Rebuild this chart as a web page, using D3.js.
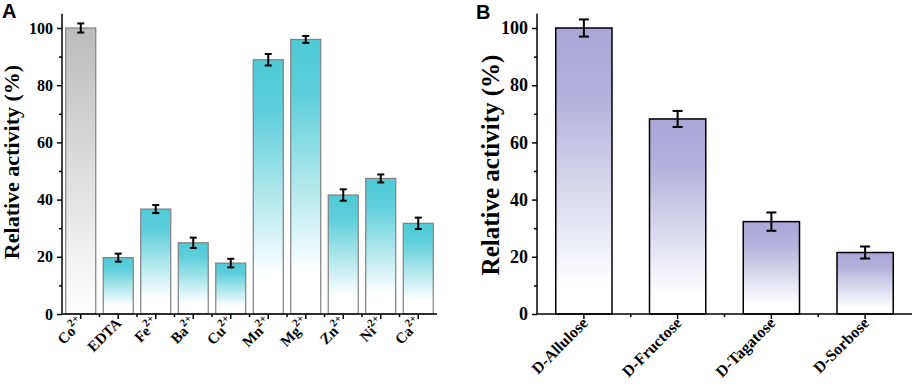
<!DOCTYPE html>
<html><head><meta charset="utf-8">
<script src="https://cdn.jsdelivr.net/npm/d3@7"></script>
<style>body{margin:0;background:#fff}svg{display:block}</style>
</head><body>
<svg id="c" width="913" height="386"></svg>
<script>
const ionsA = ["Co","EDTA","Fe","Ba","Cu","Mn","Mg","Zn","Ni","Ca"];
const chargeA = ["2+","","2+","2+","2+","2+","2+","2+","2+","2+"];
const valuesA = [100,19.7,36.7,24.9,17.8,88.9,96.0,41.6,47.4,31.7];
const errorsA = [1.6,1.4,1.4,1.8,1.5,2.0,1.2,2.0,1.4,2.0];
const sugarsB = ["D-Allulose","D-Fructose","D-Tagatose","D-Sorbose"];
const valuesB = [100,68.2,32.3,21.5];
const errorsB = [3.0,2.8,3.2,2.1];
const yTicks = [0,20,40,60,80,100];

const svg = d3.select("#c");
const serif = "'Liberation Serif','Times New Roman',serif";
const defs = svg.append("defs");
function grad(id, color, stops){
  const g = defs.append("linearGradient").attr("id",id).attr("x1",0).attr("y1",0).attr("x2",0).attr("y2",1);
  stops.forEach(s=>g.append("stop").attr("offset",s[0]).attr("stop-color",s[1]===null?color:s[1]));
}
grad("gGray","#bcbcbc",[[0,null],[1,"#ffffff"]]);
grad("gTeal","#4fcad6",[[0,null],[0.2,"#5ecfda"],[0.85,"#ffffff"],[1,"#ffffff"]]);
grad("gPurp","#aaa6d6",[[0,null],[0.25,"#b5b2dc"],[0.9,"#ffffff"],[1,"#ffffff"]]);

function panel(o){
  const g = svg.append("g");
  const x = d3.scaleBand().domain(o.cats).range([o.x0,o.x1]).paddingInner(o.pi).paddingOuter(o.po);
  const y = d3.scaleLinear().domain([0,105]).range([314,314-105*2.86]);
  g.selectAll("rect.bar").data(o.vals).enter().append("rect")
    .attr("x",(d,i)=>x(o.cats[i])).attr("width",x.bandwidth())
    .attr("y",d=>y(d)).attr("height",d=>y(0)-y(d))
    .attr("fill",(d,i)=>o.fill(i)).attr("stroke",o.stroke).attr("stroke-width",o.sw);
  const eb = g.selectAll("g.eb").data(o.vals).enter().append("g");
  eb.append("line").attr("x1",(d,i)=>x(o.cats[i])+x.bandwidth()/2).attr("x2",(d,i)=>x(o.cats[i])+x.bandwidth()/2)
    .attr("y1",(d,i)=>y(d+o.errs[i])).attr("y2",(d,i)=>y(d-o.errs[i])).attr("stroke","#000").attr("stroke-width",2);
  [1,-1].forEach(s=>{
    eb.append("line").attr("x1",(d,i)=>x(o.cats[i])+x.bandwidth()/2-o.cap).attr("x2",(d,i)=>x(o.cats[i])+x.bandwidth()/2+o.cap)
      .attr("y1",(d,i)=>y(d+s*o.errs[i])).attr("y2",(d,i)=>y(d+s*o.errs[i])).attr("stroke","#000").attr("stroke-width",2);
  });
  const ya = g.append("g").attr("transform",`translate(${o.x0},0)`)
    .call(d3.axisLeft(y).tickValues(yTicks).tickSize(5).tickPadding(4).tickSizeOuter(0));
  ya.select(".domain").attr("d",`M0,${y(105)}V${y(0)}`);
  ya.selectAll(".tick line").attr("stroke-width",1.5);
  ya.selectAll("text").attr("font-family",serif).attr("font-weight","bold").attr("font-size",o.tfs).attr("fill","#000");
  g.append("g").attr("transform",`translate(${o.x0},0)`)
    .call(d3.axisLeft(y).tickValues([10,30,50,70,90]).tickSize(3).tickFormat(""))
    .call(s=>s.select(".domain").remove()).selectAll("line").attr("stroke-width",1.5);
  const xa = g.append("g").attr("transform",`translate(0,${y(0)})`)
    .call(d3.axisBottom(x).tickSize(5).tickSizeOuter(0).tickFormat(""));
  xa.select(".domain").attr("d",`M${o.x0},0H${o.x1}`);
  xa.selectAll(".tick line").attr("stroke-width",1.5);
  const bounds = o.cats.slice(1).map((c)=>x(c)-x.step()*x.paddingInner()/2);
  g.append("g").attr("transform",`translate(0,${y(0)})`).selectAll("line").data(bounds).enter().append("line")
    .attr("x1",d=>d).attr("x2",d=>d).attr("y1",0).attr("y2",3).attr("stroke","#000").attr("stroke-width",1.5);
  g.selectAll(".domain").attr("stroke-width",1.5);
  // x labels, rotated -45 and anchored at their end under each tick
  const lab = g.selectAll("text.xl").data(o.cats).enter().append("text")
    .attr("transform",(d)=>`translate(${x(d)+x.bandwidth()/2+o.lx},${y(0)+o.ly}) rotate(-45)`)
    .attr("text-anchor","end").attr("font-family",serif).attr("font-weight","bold").attr("font-size",o.lfs);
  lab.append("tspan").text(d=>d);
  if(o.sup) lab.append("tspan").attr("dy",-7).attr("font-size",o.lfs*0.72).text((d,i)=>o.sup[i]);
  svg.append("text").attr("transform",`translate(${o.tx},${o.ty}) rotate(-90)`).attr("text-anchor","middle")
    .attr("font-family",serif).attr("font-weight","bold").attr("font-size",o.yfs).text("Relative activity (%)");
  svg.append("text").attr("x",o.px).attr("y",o.py).attr("font-family","'Liberation Sans',Arial,sans-serif")
    .attr("font-weight","bold").attr("font-size",20).text(o.letter);
}

panel({cats:ionsA, vals:valuesA, errs:errorsA, sup:chargeA, x0:62, x1:437, pi:0.2, po:0.1,
  fill:i=>i===0?"url(#gGray)":"url(#gTeal)", stroke:"#808080", sw:1.2, cap:3.5,
  tfs:16, lfs:15, lx:4, ly:10, yfs:22, tx:19, ty:162, letter:"A", px:2, py:18});
panel({cats:sugarsB, vals:valuesB, errs:errorsB, x0:537, x1:912, pi:0.4, po:0.2,
  fill:i=>"url(#gPurp)", stroke:"#000", sw:1.5, cap:5,
  tfs:18, lfs:16, lx:5, ly:10, yfs:25, tx:499, ty:165, letter:"B", px:476, py:19});
</script>
</body></html>
